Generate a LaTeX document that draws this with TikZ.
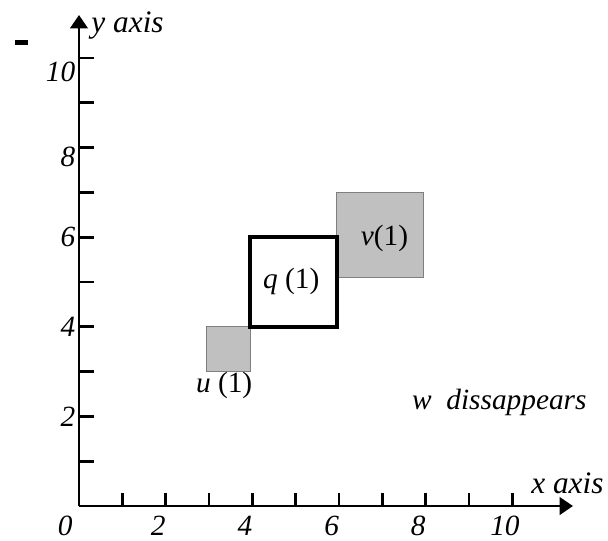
\documentclass[tikz,border=0pt]{standalone}
\usepackage{fontspec}
\setmainfont{Liberation Serif}
\usetikzlibrary{arrows.meta,positioning}
\definecolor{ink}{HTML}{000000}
\definecolor{shade}{HTML}{C0C0C0}
\definecolor{edge}{HTML}{7F7F7F}
\tikzset{
  >={Triangle[width=13pt,length=10pt]},
  every node/.style={font=\fontsize{22}{25}\selectfont\itshape,text=ink,inner sep=1pt},
  axis/.style={->,line width=2.2pt,draw=ink},
  tick/.style={line width=2pt,draw=ink},
  region/.style={fill=shade,draw=edge,line width=0.8pt},
  current/.style={draw=ink,line width=3pt},
  xnum/.style={anchor=north,inner sep=0pt},
  ynum/.style={anchor=east},
  axislabel/.style={font=\fontsize{23.5}{26}\selectfont\itshape},
}

\begin{document}
\begin{tikzpicture}[x=32.5pt,y=33.6pt]
\useasboundingbox (-1.823,-0.759) rectangle (12.208,11.295);

% stray mark
\fill[ink] (-1.47,10.29) rectangle (-1.17,10.4);

% regions
\fill[region] (2.95,3) rectangle (3.95,4);
\fill[region] (5.95,5.1) rectangle (7.95,7);
\draw[current] (3.95,4) rectangle (5.95,6);

% axes
\coordinate (O) at (0,0);
\coordinate (xend) at (11.4,0);
\coordinate (yend) at (0,10.96);
\draw[axis] (O) -- (xend);
\draw[axis] (O) -- (yend);

\foreach \k in {1,...,10}{
  \draw[tick] (\k,0) -- (\k,0.29);
  \draw[tick] (0,\k) -- (0.34,\k);
}
\node[xnum] (x0) at (-0.32,-0.22) {0};
\foreach \k in {2,4,6,8,10}
  \node[xnum] (x\k) at (\k-0.17,-0.22) {\k};
\foreach \k/\dy in {2/0,4/0,6/0,8/-0.2,10/-0.3}
  \node[ynum] (y\k) at (-0.05,\k+\dy) {\k};

\node[axislabel,anchor=base west] (ylab) at (0.25,10.56) {y axis};
\node[axislabel,anchor=base west] (xlab) at (10.4,0.27) {x axis};

% labels
\node (q) at (4.9,5.02) {q \upshape(1)};
\node (v) at (7.05,5.98) {v\upshape(1)};
\node (u) at (3.35,2.70) {u \upshape(1)};
\node (w) at (9.7,2.32) {w\ \ dissappears};
\end{tikzpicture}
\end{document}
